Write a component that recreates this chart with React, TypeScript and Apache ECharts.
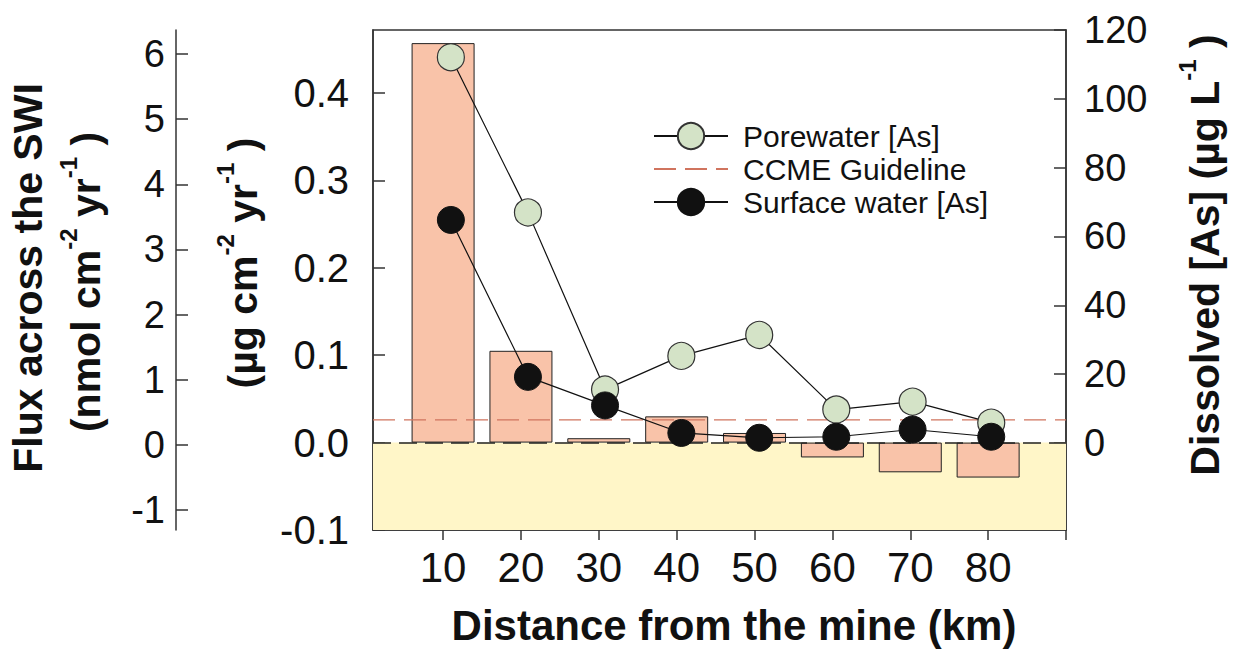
import React, { useEffect, useRef } from "react";
import * as echarts from "echarts";

// ---- data ----
const distanceKm = [10, 20, 30, 40, 50, 60, 70, 80];
const fluxUgPerCm2Yr = [0.457, 0.105, 0.005, 0.03, 0.011, -0.017, -0.034, -0.04];
const sampleKm = [11.0, 20.9, 30.8, 40.6, 50.6, 60.5, 70.3, 80.4];
const porewaterAs = [112.1, 67.0, 15.5, 25.3, 31.4, 9.7, 12.0, 5.9];
const surfaceWaterAs = [64.8, 19.2, 10.9, 2.9, 1.5, 1.8, 3.9, 1.8];
const ccmeGuideline = 6.7;

const xTicks = [10, 20, 30, 40, 50, 60, 70, 80];
const ugTicks = [-0.1, 0.0, 0.1, 0.2, 0.3, 0.4];
const nmolTicks = [-1, 0, 1, 2, 3, 4, 5, 6];
const dissolvedTicks = [0, 20, 40, 60, 80, 100, 120];

const FONT = "'Liberation Sans', Arial, Helvetica, sans-serif";
const AXIS = "#333";
const TEXT = "#111";

export default function App() {
  const ref = useRef<HTMLDivElement>(null);

  useEffect(() => {
    if (!ref.current) return;
    const chart = echarts.init(ref.current, null, { renderer: "svg" });

    const axisLine = { show: true, onZero: false, lineStyle: { color: AXIS, width: 1.5 } };
    const tickLine = { color: AXIS, width: 1.5 };

    const sup = (size: number) => ({
      fontSize: size,
      fontWeight: "bold",
      fontFamily: FONT,
      fill: TEXT,
      color: TEXT,
      lineHeight: size + 2,
      verticalAlign: "top",
    });
    const main = (size: number, lh: number) => ({
      fontSize: size,
      fontWeight: "bold",
      fontFamily: FONT,
      fill: TEXT,
      color: TEXT,
      lineHeight: lh,
    });

    const option: any = {
      animation: false,
      backgroundColor: "#ffffff",
      grid: {
        left: 373,
        right: 170,
        top: 30,
        bottom: 120,
        show: true,
        borderColor: AXIS,
        borderWidth: 1.5,
        backgroundColor: "transparent",
      },
      legend: {
        data: [
          { name: "Porewater [As]" },
          { name: "CCME Guideline", itemStyle: { opacity: 0 } },
          { name: "Surface water [As]" },
        ],
        orient: "vertical",
        left: 648,
        top: 116,
        itemWidth: 74,
        itemHeight: 33,
        itemGap: 3,
        selectedMode: false,
        textStyle: { fontSize: 30, fontFamily: FONT, color: TEXT, padding: [0, 0, 0, 10] },
      },
      xAxis: {
        type: "value",
        min: 1,
        max: 90,
        position: "bottom",
        axisLine,
        axisTick: { show: true, inside: false, length: 10, customValues: [...xTicks, 90], lineStyle: tickLine },
        axisLabel: { customValues: xTicks, fontSize: 42, fontFamily: FONT, color: TEXT, margin: 16 },
        splitLine: { show: false },
      },
      yAxis: [
        {
          type: "value",
          position: "left",
          min: -0.1,
          max: 0.472,
          axisLine,
          axisTick: { show: true, inside: true, length: 12, customValues: ugTicks, lineStyle: tickLine },
          axisLabel: {
            customValues: ugTicks,
            formatter: (v: number) => v.toFixed(1),
            fontSize: 40,
            fontFamily: FONT,
            color: TEXT,
            margin: 24,
          },
          splitLine: { show: false },
        },
        {
          type: "value",
          position: "left",
          offset: 197,
          min: -1.31,
          max: 6.37,
          axisLine,
          axisTick: { show: true, inside: true, length: 12, customValues: nmolTicks, lineStyle: tickLine },
          axisLabel: { customValues: nmolTicks, fontSize: 38, fontFamily: FONT, color: TEXT, margin: 11 },
          splitLine: { show: false },
        },
        {
          type: "value",
          position: "right",
          min: -25.3,
          max: 120,
          axisLine,
          axisTick: { show: true, inside: true, length: 12, customValues: dissolvedTicks, lineStyle: tickLine },
          axisLabel: { customValues: dissolvedTicks, fontSize: 38, fontFamily: FONT, color: TEXT, margin: 18 },
          splitLine: { show: false },
        },
      ],
      series: [
        {
          name: "Flux",
          type: "bar",
          xAxisIndex: 0,
          yAxisIndex: 0,
          barWidth: 63,
          z: 2,
          data: distanceKm.map((d, i) => [d, fluxUgPerCm2Yr[i]]),
          itemStyle: { color: "#F9C3A9", borderColor: "#222", borderWidth: 1 },
          markArea: {
            silent: true,
            itemStyle: { color: "#FFF6C8" },
            data: [[{ yAxis: -0.1 }, { yAxis: 0 }]],
          },
          markLine: {
            silent: true,
            symbol: ["none", "none"],
            label: { show: false },
            lineStyle: { color: "#222", type: [18, 8], width: 1.5 },
            data: [{ yAxis: 0 }],
          },
        },
        {
          name: "CCME Guideline",
          type: "line",
          yAxisIndex: 2,
          symbol: "none",
          z: 3,
          data: [
            [1, ccmeGuideline],
            [90, ccmeGuideline],
          ],
          lineStyle: { color: "#D0745E", width: 1.2, type: [22, 9] },
          itemStyle: { color: "#D0745E" },
        },
        {
          name: "Porewater [As]",
          type: "line",
          yAxisIndex: 2,
          symbol: "circle",
          symbolSize: 27,
          z: 4,
          data: sampleKm.map((x, i) => [x, porewaterAs[i]]),
          lineStyle: { color: "#111", width: 1.2 },
          itemStyle: { color: "#D4E3C7", borderColor: "#333", borderWidth: 1.2 },
        },
        {
          name: "Surface water [As]",
          type: "line",
          yAxisIndex: 2,
          symbol: "circle",
          symbolSize: 27,
          z: 5,
          data: sampleKm.map((x, i) => [x, surfaceWaterAs[i]]),
          lineStyle: { color: "#111", width: 1.2 },
          itemStyle: { color: "#111", borderColor: "#111", borderWidth: 1 },
        },
      ],
      graphic: [
        {
          type: "text",
          x: 28,
          y: 278,
          rotation: Math.PI / 2,
          style: {
            text: "Flux across the SWI",
            fontSize: 41,
            fontWeight: "bold",
            fontFamily: FONT,
            fill: TEXT,
            align: "center",
            verticalAlign: "middle",
          },
        },
        {
          type: "text",
          x: 86,
          y: 282,
          rotation: Math.PI / 2,
          style: {
            text: "{m|(nmol cm}{s|-2}{m| yr}{s|-1}{m| )}",
            rich: { m: main(41, 60), s: sup(24) },
            align: "center",
            verticalAlign: "middle",
          },
        },
        {
          type: "text",
          x: 243,
          y: 263,
          rotation: Math.PI / 2,
          style: {
            text: "{m|(µg cm}{s|-2}{m| yr}{s|-1}{m| )}",
            rich: { m: main(41, 60), s: sup(24) },
            align: "center",
            verticalAlign: "middle",
          },
        },
        {
          type: "text",
          x: 1205,
          y: 255,
          rotation: Math.PI / 2,
          style: {
            text: "{m|Dissolved [As] (µg L}{s|-1}{m| )}",
            rich: { m: main(41, 60), s: sup(24) },
            align: "center",
            verticalAlign: "middle",
          },
        },
        {
          type: "text",
          x: 734,
          y: 625,
          style: {
            text: "Distance from the mine (km)",
            fontSize: 42,
            fontWeight: "bold",
            fontFamily: FONT,
            fill: TEXT,
            align: "center",
            verticalAlign: "middle",
          },
        },
      ],
    };

    chart.setOption(option);
    return () => chart.dispose();
  }, []);

  return (
    <div
      ref={ref}
      style={{ position: "absolute", left: 0, top: 0, width: 1236, height: 650, background: "#fff" }}
    />
  );
}
